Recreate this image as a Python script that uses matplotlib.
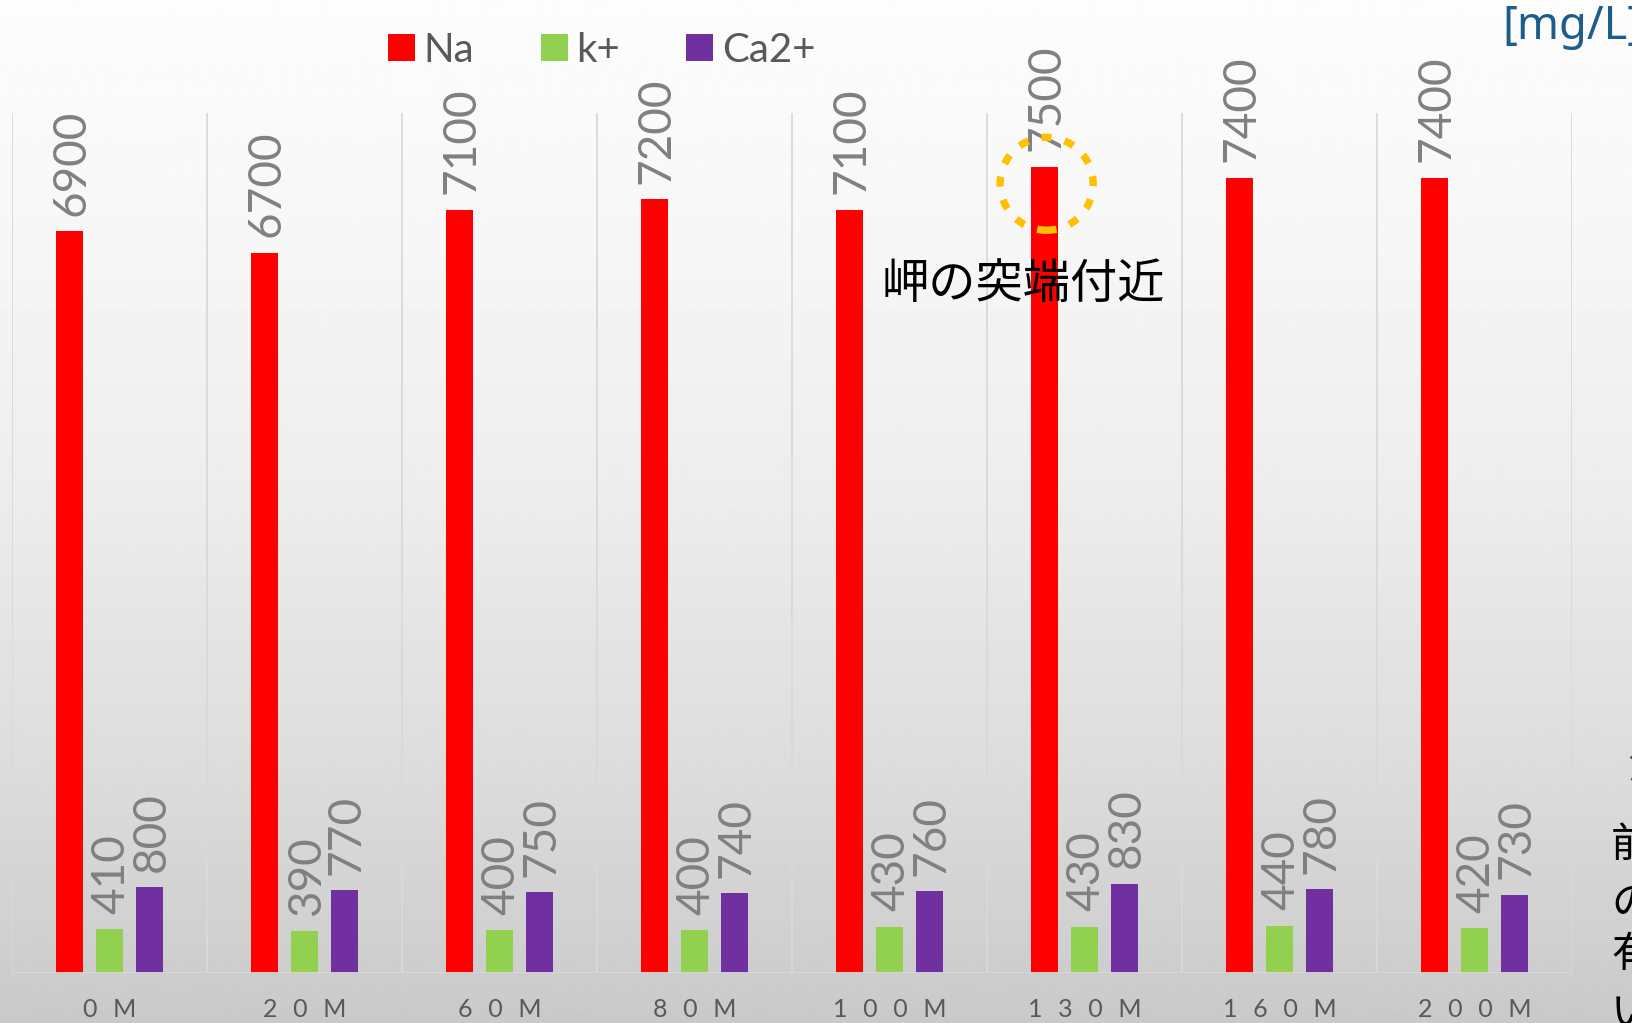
import numpy as np
import matplotlib
matplotlib.use('Agg')
import matplotlib.pyplot as plt
from matplotlib.patches import Circle

# depth of each sample and ion concentration [mg/L]
depths = ['0M', '20M', '60M', '80M', '100M', '130M', '160M', '200M']
na = [6900, 6700, 7100, 7200, 7100, 7500, 7400, 7400]
k = [410, 390, 400, 400, 430, 430, 440, 420]
ca = [800, 770, 750, 740, 760, 830, 780, 730]
series_names = ['Na', 'k+', 'Ca2+']
colors = ['#FF0000', '#92D050', '#7030A0']

W, H = 1632, 1023
LATIN = ['Lato', 'DejaVu Sans']
CJK = ['Noto Sans CJK JP', 'DejaVu Sans']

fig = plt.figure(figsize=(W / 100, H / 100), dpi=100)

# slide background: white at the top fading to grey at the bottom
bg = fig.add_axes([0, 0, 1, 1], zorder=-10)
ys = np.linspace(0, 1, 512)
shade = np.interp(ys, [0, 0.25, 0.5, 0.75, 1.0], [0.99, 0.965, 0.925, 0.865, 0.79])
bg.imshow(np.tile(shade[:, None], (1, 2)), cmap='gray', vmin=0, vmax=1,
          aspect='auto', extent=[0, 1, 0, 1], origin='upper', interpolation='bilinear')
bg.axis('off')

ax = fig.add_axes([12 / W, 50 / H, 1560 / W, 860 / H])
ax.patch.set_alpha(0)

x = np.arange(len(depths)) + 0.5
off = 0.207
bw = 0.138
for vals, dx, c, name in zip([na, k, ca], [-off, 0, off], colors, series_names):
    bars = ax.bar(x + dx, vals, bw, color=c, label=name, zorder=3)
    for b, v in zip(bars, vals):
        ax.annotate(f'{v}', (b.get_x() + b.get_width() / 2, v), xytext=(1.5, 11),
                    textcoords='offset points', rotation=90, ha='center', va='bottom',
                    fontsize=33, color='#808080', family=LATIN, zorder=4)

ax.set_xlim(0, len(depths))
ax.set_ylim(0, 8000)
ax.vlines(np.arange(len(depths) + 1), 0, 8000, color='#D9D9D9', lw=1.3, zorder=1)
ax.axhline(0, color='#D9D9D9', lw=1.3, zorder=4)
for s in ax.spines.values():
    s.set_visible(False)
ax.set_yticks([])
spaced = ['\u2002\u2009'.join(d) for d in depths]
ax.set_xticks(x, spaced)
ax.tick_params(axis='x', length=0, pad=18, labelsize=18, labelcolor='#595959')
for t in ax.get_xticklabels():
    t.set_family(LATIN)

leg = ax.legend(ncol=3, loc='center left', bbox_to_anchor=(388 / W, 1 - 50 / H),
                bbox_transform=fig.transFigure, frameon=False, borderpad=0,
                borderaxespad=0, handlelength=0.67, handleheight=0.67,
                handletextpad=0.22, columnspacing=1.64,
                prop={'family': LATIN, 'size': 29})
for t in leg.get_texts():
    t.set_color('#595959')

# dotted ring around the highest Na bar
fig.canvas.draw()
px, py = ax.transData.transform((x[5] - off, na[5]))
ring = Circle(((px + 2.5) / 100, (py - 17) / 100), 0.465, transform=fig.dpi_scale_trans,
              fill=False, edgecolor='#FFC000', lw=5.3, linestyle=(0, (1.35, 1.85)),
              capstyle='butt', zorder=10)
fig.patches.append(ring)

fig.text(1023 / W, 1 - 285 / H, '岬の突端付近', ha='center', va='center',
         fontsize=34, color='black', family=CJK, zorder=11)

fig.text(1502 / W, 1 - 27 / H, '[mg/L]', ha='left', va='center', fontsize=32.5,
         color='#1B5E8C', family=['Noto Sans', 'DejaVu Sans'])

fig.text(1627 / W, 1 - 767 / H, '海', ha='left', va='center', fontsize=30,
         color='#1B5E8C', family=CJK)
side_chars = ['前', 'の', '有', 'い']
side_y = [845, 904, 955, 1015]
for ch, yy in zip(side_chars, side_y):
    fig.text(1611 / W, 1 - yy / H, ch, ha='left', va='center', fontsize=30,
             color='black', family=CJK)

fig.savefig('out.png', dpi=100)
